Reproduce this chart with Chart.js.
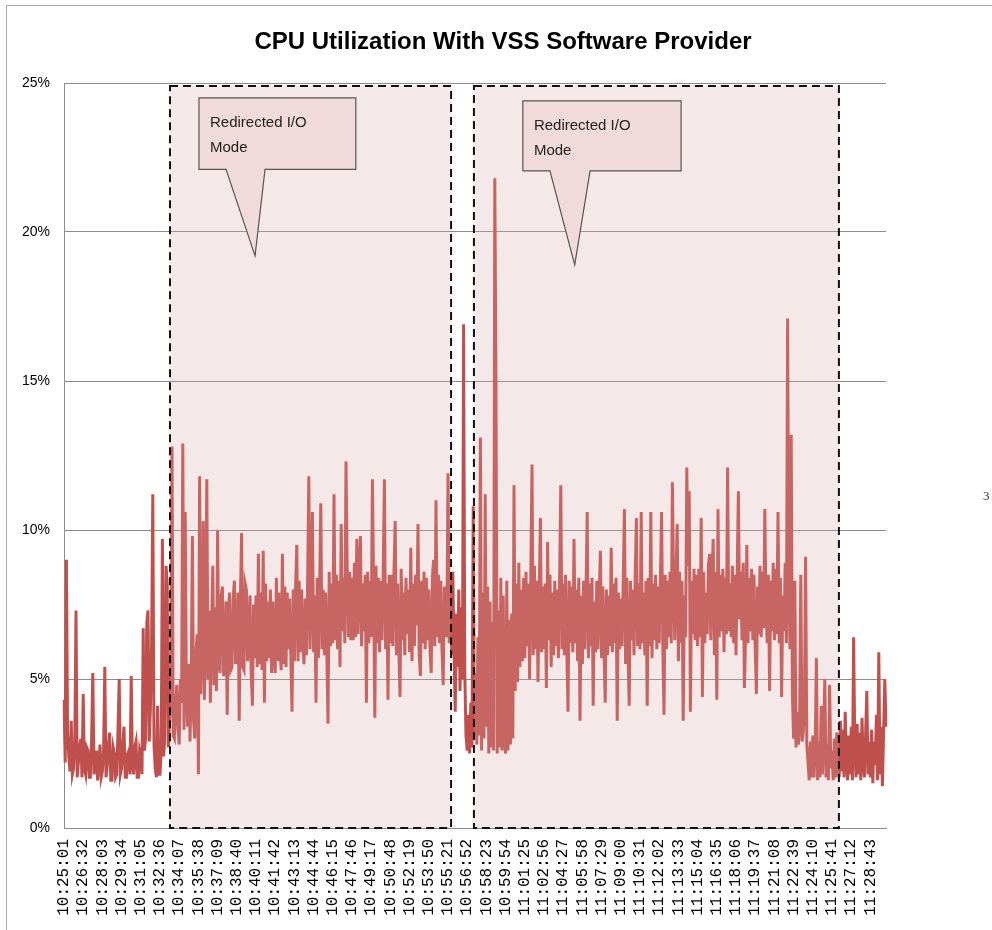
<!DOCTYPE html>
<html>
<head>
<meta charset="utf-8">
<title>CPU Utilization With VSS Software Provider</title>
<script src="https://cdn.jsdelivr.net/npm/chart.js@4.4.1/dist/chart.umd.min.js"></script>
<style>
  html, body { margin: 0; padding: 0; background: #fff; }
  #wrap { width: 992px; height: 930px; position: relative; }
</style>
</head>
<body>
<div id="wrap"><canvas id="chart"></canvas></div>
<script>
const chartTitle = "CPU Utilization With VSS Software Provider";

// tick labels on the time axis (one every 1:31)
const timeLabels = [
  "10:25:01", "10:26:32", "10:28:03", "10:29:34", "10:31:05", "10:32:36", "10:34:07",
  "10:35:38", "10:37:09", "10:38:40", "10:40:11", "10:41:42", "10:43:13", "10:44:44",
  "10:46:15", "10:47:46", "10:49:17", "10:50:48", "10:52:19", "10:53:50", "10:55:21",
  "10:56:52", "10:58:23", "10:59:54", "11:01:25", "11:02:56", "11:04:27", "11:05:58",
  "11:07:29", "11:09:00", "11:10:31", "11:12:02", "11:13:33", "11:15:04", "11:16:35",
  "11:18:06", "11:19:37", "11:21:08", "11:22:39", "11:24:10", "11:25:41", "11:27:12",
  "11:28:43"
];
const samplesPerLabel = 16;

// CPU % samples, 16 per labelled interval
const cpuValues = [
  4.3, 2.2, 9.0, 3.1, 2.4, 1.9, 3.6, 1.8, 2.0, 2.9, 7.3, 1.7, 2.2, 2.7, 3.0, 1.7,
  4.5, 2.0, 1.8, 2.7, 2.6, 1.7, 1.7, 3.0, 5.2, 1.8, 2.3, 2.6, 1.6, 2.1, 2.8, 1.7,
  1.9, 2.6, 5.4, 1.7, 2.1, 2.8, 3.2, 1.6, 1.6, 2.7, 2.5, 1.7, 1.8, 3.3, 5.0, 1.8,
  2.0, 2.8, 3.4, 1.7, 1.7, 2.5, 2.6, 1.8, 5.1, 2.2, 1.8, 2.7, 2.9, 1.7, 1.7, 2.6,
  2.4, 1.8, 6.7, 2.6, 3.0, 6.9, 7.3, 2.9, 4.0, 6.2, 11.2, 2.8, 2.0, 1.7, 4.1, 1.8,
  1.8, 2.6, 9.7, 2.4, 3.0, 8.8, 8.2, 2.7, 3.6, 4.4, 12.8, 3.1, 3.0, 4.2, 4.8, 3.3,
  2.8, 5.0, 4.2, 12.9, 3.3, 10.6, 4.6, 3.4, 5.5, 2.9, 4.8, 9.8, 3.6, 3.0, 5.9, 6.5,
  1.8, 11.8, 4.5, 6.2, 10.3, 4.3, 6.6, 11.7, 5.0, 7.3, 4.2, 6.8, 8.8, 4.8, 7.4, 4.6,
  10.0, 5.6, 5.2, 7.8, 8.1, 5.1, 5.6, 7.6, 3.8, 7.3, 7.9, 5.3, 5.4, 7.7, 8.3, 5.5,
  5.8, 7.9, 3.6, 7.7, 9.9, 5.4, 5.3, 8.2, 8.0, 5.6, 6.2, 7.8, 5.2, 4.1, 7.5, 5.7,
  7.8, 5.4, 9.2, 5.5, 7.9, 5.3, 9.3, 4.2, 8.2, 5.6, 7.6, 5.7, 8.0, 5.2, 7.6, 5.9,
  5.2, 8.4, 5.6, 7.9, 6.0, 5.3, 9.2, 5.5, 8.1, 5.4, 7.9, 6.0, 7.7, 5.8, 3.9, 8.0,
  5.6, 8.1, 9.5, 5.6, 8.3, 5.9, 8.0, 6.1, 5.5, 7.7, 5.8, 8.2, 11.8, 6.0, 7.9, 10.6,
  5.9, 7.8, 4.2, 8.4, 5.7, 8.1, 10.9, 6.0, 8.0, 5.8, 7.9, 5.9, 3.5, 8.6, 6.1, 8.2,
  6.2, 11.2, 6.3, 8.5, 6.0, 8.3, 5.4, 10.2, 6.6, 8.4, 6.2, 12.3, 8.7, 6.4, 8.6, 6.3,
  8.4, 6.3, 8.9, 6.4, 9.7, 6.5, 8.6, 9.8, 6.1, 8.2, 6.6, 8.5, 4.2, 8.6, 6.2, 8.3,
  6.4, 11.7, 8.1, 3.7, 8.8, 6.2, 8.4, 5.9, 8.3, 6.3, 8.6, 11.7, 6.0, 8.2, 4.3, 8.5,
  6.2, 8.5, 6.1, 8.6, 10.3, 5.8, 8.2, 6.0, 4.4, 8.7, 6.3, 7.9, 5.8, 8.4, 6.5, 8.0,
  5.9, 9.4, 5.6, 8.2, 6.1, 8.5, 6.8, 10.2, 5.8, 5.1, 8.3, 6.2, 8.6, 6.0, 8.4, 6.3,
  8.0, 6.0, 5.2, 8.4, 9.0, 6.1, 11.0, 6.4, 8.5, 6.2, 8.3, 6.0, 4.8, 8.1, 7.6, 6.4,
  11.9, 6.2, 8.4, 5.8, 8.6, 6.0, 3.9, 7.2, 5.4, 8.0, 4.6, 7.4, 5.0, 16.9, 5.2, 3.1,
  2.6, 3.8, 2.5, 4.2, 2.7, 10.8, 3.0, 5.2, 2.8, 6.4, 3.1, 13.1, 2.6, 7.9, 3.0, 11.2,
  3.4, 8.1, 2.5, 7.6, 2.7, 6.9, 2.6, 21.8, 15.0, 2.5, 7.3, 2.7, 8.4, 2.6, 7.8, 2.9,
  2.5, 8.3, 2.6, 7.0, 2.8, 7.2, 3.0, 11.5, 4.6, 8.2, 4.9, 8.9, 5.4, 8.0, 5.6, 8.4,
  5.7, 8.6, 6.1, 8.2, 5.0, 8.5, 12.2, 5.8, 8.8, 6.0, 8.3, 4.9, 7.9, 10.4, 5.9, 8.1,
  6.0, 8.2, 4.7, 9.6, 6.3, 8.5, 5.4, 7.9, 5.8, 8.3, 6.1, 8.0, 5.7, 8.4, 11.5, 6.0,
  8.2, 5.8, 8.5, 6.0, 3.9, 8.3, 6.2, 8.1, 5.9, 9.7, 6.2, 8.0, 5.6, 8.4, 3.6, 7.8,
  5.5, 8.3, 6.0, 7.9, 10.6, 5.7, 8.2, 6.1, 8.4, 4.1, 7.6, 5.9, 8.3, 6.0, 7.8, 9.3,
  5.7, 8.1, 6.0, 4.2, 8.0, 5.8, 7.8, 6.1, 9.4, 5.9, 8.2, 6.2, 8.4, 3.6, 7.9, 6.0,
  7.7, 6.1, 8.2, 10.7, 5.5, 8.4, 6.0, 4.1, 8.3, 6.3, 8.0, 5.8, 8.5, 10.4, 6.1, 8.2,
  6.0, 10.6, 6.2, 7.9, 5.8, 8.3, 4.1, 8.4, 6.1, 10.6, 5.7, 8.2, 6.3, 8.5, 6.0, 8.1,
  6.2, 8.4, 10.6, 6.1, 3.8, 8.5, 6.0, 8.3, 6.4, 8.6, 6.2, 11.6, 8.1, 6.3, 8.4, 10.2,
  5.6, 8.6, 6.2, 8.3, 3.6, 7.8, 6.4, 12.1, 8.8, 11.3, 3.9, 8.3, 6.5, 8.7, 6.3, 8.5,
  6.1, 8.7, 6.4, 10.4, 4.4, 8.6, 6.2, 7.9, 6.5, 8.8, 9.2, 6.3, 8.4, 9.7, 5.8, 8.6,
  4.3, 10.7, 6.4, 8.5, 6.6, 8.7, 5.9, 8.4, 6.5, 12.1, 6.6, 8.2, 6.4, 8.8, 6.2, 8.5,
  5.8, 8.6, 11.3, 7.0, 8.6, 6.3, 8.9, 4.7, 6.4, 9.5, 6.2, 8.4, 6.6, 8.7, 6.3, 8.5,
  6.0, 4.5, 8.1, 6.5, 8.8, 6.4, 8.6, 6.7, 10.7, 7.4, 6.2, 8.5, 4.6, 8.3, 6.6, 8.9,
  6.3, 8.7, 6.5, 10.6, 6.2, 8.4, 4.4, 7.8, 6.6, 8.9, 6.2, 17.1, 8.4, 6.0, 13.2, 4.5,
  3.0, 8.3, 2.7, 3.9, 2.8, 3.6, 8.5, 2.9, 3.2, 4.0, 9.1, 2.8, 2.2, 1.6, 2.9, 1.7,
  3.1, 1.7, 2.8, 5.7, 1.6, 2.9, 1.7, 4.1, 1.8, 3.0, 5.0, 1.7, 2.8, 1.6, 4.8, 2.0,
  2.6, 1.6, 3.0, 1.7, 3.2, 2.0, 1.7, 3.6, 1.9, 3.3, 1.7, 3.9, 2.3, 1.6, 3.1, 1.8,
  3.4, 1.6, 6.4, 2.8, 1.7, 3.5, 1.8, 3.2, 1.6, 3.7, 2.2, 1.7, 3.1, 4.6, 1.8, 2.9,
  1.7, 3.3, 1.5, 2.9, 2.1, 3.8, 1.6, 5.9, 1.8, 3.4, 1.4, 3.2, 5.0, 3.4
];

const yTicks = [0, 5, 10, 15, 20, 25];

// shaded "redirected I/O" spans, in label-interval units
const modeSpans = [[5.52, 20.16], [21.35, 40.36]];
const spanTop = 24.9;

// callout boxes (label-interval / percent units)
const calloutLines = ["Redirected I/O", "Mode"];
const callouts = [
  { from: 7.03, to: 15.2, top: 24.5, bottom: 22.1, baseFrom: 8.44, baseTo: 10.47, tipAt: 9.95, tipValue: 19.2 },
  { from: 23.9, to: 32.14, top: 24.4, bottom: 22.05, baseFrom: 25.31, baseTo: 27.4, tipAt: 26.6, tipValue: 18.9 }
];

const categories = cpuValues.map((_, i) =>
  i % samplesPerLabel === 0 ? (timeLabels[i / samplesPerLabel] || "") : "");

const modePlugin = {
  id: "modePlugin",
  afterDatasetsDraw(chart) {
    const { ctx, scales: { x, y } } = chart;
    const px = u => x.getPixelForValue(u * samplesPerLabel);
    ctx.save();
    // pink wash over the line
    ctx.fillStyle = "rgba(215,165,165,0.25)";
    modeSpans.forEach(([a, b]) => {
      const yt = y.getPixelForValue(spanTop), yb = y.getPixelForValue(0);
      ctx.fillRect(px(a), yt, px(b) - px(a), yb - yt);
    });
    // dashed outlines
    ctx.strokeStyle = "#111";
    ctx.lineWidth = 2;
    ctx.setLineDash([8, 5]);
    modeSpans.forEach(([a, b]) => {
      const yt = y.getPixelForValue(spanTop), yb = y.getPixelForValue(0);
      ctx.strokeRect(px(a), yt, px(b) - px(a), yb - yt);
    });
    ctx.setLineDash([]);
    // callouts
    callouts.forEach(c => {
      const l = px(c.from), r = px(c.to);
      const t = y.getPixelForValue(c.top), b = y.getPixelForValue(c.bottom);
      const tx = px(c.tipAt), ty = y.getPixelForValue(c.tipValue);
      ctx.beginPath();
      ctx.moveTo(l, t);
      ctx.lineTo(r, t);
      ctx.lineTo(r, b);
      ctx.lineTo(px(c.baseTo), b);
      ctx.lineTo(tx, ty);
      ctx.lineTo(px(c.baseFrom), b);
      ctx.lineTo(l, b);
      ctx.closePath();
      ctx.fillStyle = "#f1dadb";
      ctx.fill();
      ctx.strokeStyle = "#555";
      ctx.lineWidth = 1.2;
      ctx.stroke();
      ctx.fillStyle = "#222";
      ctx.font = "15px 'Liberation Sans', Arial, sans-serif";
      ctx.textBaseline = "middle";
      ctx.textAlign = "left";
      calloutLines.forEach((line, k) => ctx.fillText(line, l + 11, t + 25 + k * 25));
    });
    ctx.restore();
  },
  afterDraw(chart) {
    const { ctx } = chart;
    ctx.save();
    // outer frame (left and top edges are visible)
    ctx.strokeStyle = "#a6a6a6";
    ctx.lineWidth = 1;
    ctx.beginPath();
    ctx.moveTo(6.5, 930);
    ctx.lineTo(6.5, 5.5);
    ctx.lineTo(992, 5.5);
    ctx.stroke();
    // title
    ctx.fillStyle = "#000";
    ctx.font = "bold 24px 'Liberation Sans', Arial, sans-serif";
    ctx.textAlign = "center";
    ctx.textBaseline = "middle";
    ctx.fillText(chartTitle, 503, 42);
    // stray glyph at the right edge
    ctx.fillStyle = "#333";
    ctx.font = "13px 'Liberation Serif', serif";
    ctx.textAlign = "left";
    ctx.fillText("3", 983, 497);
    ctx.restore();
  }
};

new Chart(document.getElementById("chart"), {
  type: "line",
  data: {
    labels: categories,
    datasets: [{
      data: cpuValues,
      borderColor: "#C0504D",
      borderWidth: 3,
      pointRadius: 0,
      tension: 0,
      fill: false
    }]
  },
  options: {
    responsive: true,
    maintainAspectRatio: false,
    animation: false,
    layout: { padding: { left: 8, right: 106, top: 83, bottom: 0 } },
    plugins: {
      legend: { display: false },
      tooltip: { enabled: false },
      title: { display: false }
    },
    scales: {
      x: {
        type: "category",
        grid: { display: false },
        border: { display: true, color: "#8c8c8c" },
        afterFit: s => { s.height = 102; },
        ticks: {
          autoSkip: false,
          minRotation: 90,
          maxRotation: 90,
          padding: 3,
          color: "#000",
          font: { family: "'Liberation Mono', 'DejaVu Sans Mono', monospace", size: 16 },
          callback: (v, i) => i % samplesPerLabel === 0 && timeLabels[i / samplesPerLabel] ? timeLabels[i / samplesPerLabel] : null
        }
      },
      y: {
        min: yTicks[0],
        max: yTicks[yTicks.length - 1],
        afterFit: s => { s.width = 56; },
        afterBuildTicks: s => { s.ticks = yTicks.map(v => ({ value: v })); },
        grid: { color: "#8c8c8c", drawTicks: false },
        border: { display: true, color: "#8c8c8c" },
        ticks: {
          padding: 14,
          color: "#000",
          font: { family: "'Liberation Sans', Arial, sans-serif", size: 14 },
          callback: v => v + "%"
        }
      }
    }
  },
  plugins: [modePlugin]
});
</script>
</body>
</html>
